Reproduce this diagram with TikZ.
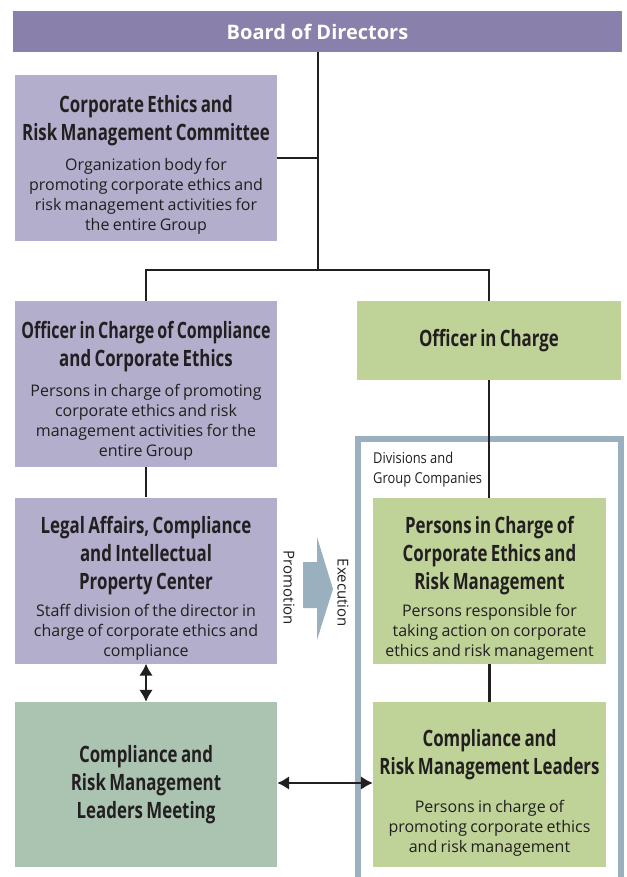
\documentclass[tikz,border=0pt]{standalone}
\usepackage{fontspec}
\setmainfont{Open Sans}
\newfontfamily\condfont[FakeStretch=0.75]{Open Sans}
\newfontfamily\narrowfont[FakeStretch=0.86]{Open Sans}
\usetikzlibrary{arrows.meta}
\definecolor{boardpurple}{HTML}{8981AC}
\definecolor{lavender}{HTML}{B2AECB}
\definecolor{leafgreen}{HTML}{BFD399}
\definecolor{sagegreen}{HTML}{ABC4B2}
\definecolor{slateblue}{HTML}{9BB0BE}
\definecolor{textgray}{HTML}{231F20}
\newcommand{\boxtitle}{\condfont\bfseries\fontsize{22.5}{28}\selectfont}
\newcommand{\boxbody}{\normalfont\fontsize{16}{20}\selectfont}
\newcommand{\topgap}[1]{\par\vspace*{#1}}

\begin{document}
\begin{tikzpicture}[
    x=1pt,y=-1pt,
    board/.style={fill=boardpurple,text=white,minimum width=609pt,minimum height=41pt,inner sep=0,font=\bfseries\fontsize{20}{24}\selectfont},
    unit/.style={inner sep=0,align=center,text=textgray},
    purplebox/.style={unit,fill=lavender,minimum width=262pt,minimum height=166pt,text width=262pt},
    meetbox/.style={unit,fill=sagegreen,minimum width=262pt,minimum height=165pt,text width=262pt},
    greenbox/.style={unit,fill=leafgreen,minimum width=233pt,minimum height=166pt,text width=233pt},
    link/.style={line width=2.5pt,draw=textgray},
    biarrow/.style={link,{Latex[length=12pt,width=14pt]}-{Latex[length=12pt,width=14pt]}},
    lbl/.style={inner sep=0,text=textgray,font=\fontsize{15}{18}\selectfont}
]
    \useasboundingbox (0,0) rectangle (626,877);
    \node[board] (board) at (317.5,31.5) {Board of Directors};
    \node[purplebox] (ethics) at (146,158) {\topgap{3pt}\boxtitle Corporate Ethics and\\Risk Management Committee\par\vspace{10pt}\boxbody Organization body for\\promoting corporate ethics and\\risk management activities for\\the entire Group\par};
    \node[purplebox] (offcomp) at (146,384) {\topgap{2pt}\boxtitle \scalebox{0.95}[1]{Officer in Charge of Compliance}\\and Corporate Ethics\par\vspace{10pt}\boxbody Persons in charge of promoting\\corporate ethics and risk\\management activities for the\\entire Group\par};
    \node[purplebox] (legal) at (146,580.5) {\topgap{5pt}\boxtitle Legal Affairs, Compliance\\and Intellectual\\Property Center\par\vspace{7pt}\boxbody Staff division of the director in\\charge of corporate ethics and\\compliance\par};
    \node[meetbox] (meeting) at (146,784.5) {\boxtitle Compliance and\\Risk Management\\Leaders Meeting\par};
    \node[greenbox,minimum width=264pt,minimum height=79pt] (officer) at (489,340.5) {\boxtitle Officer in Charge\par};
    \node[greenbox] (persons) at (489.5,581) {\topgap{3pt}\boxtitle Persons in Charge of\\Corporate Ethics and\\Risk Management\par\vspace{7pt}\boxbody Persons responsible for\\taking action on corporate\\ethics and risk management\par};
    \node[greenbox,minimum height=165pt] (leaders) at (489.5,784.5) {\topgap{5pt}\boxtitle Compliance and\\Risk Management Leaders\par\vspace{18pt}\boxbody Persons in charge of\\promoting corporate ethics\\and risk management\par};

    % divisions frame
    \draw[slateblue,line width=6pt] (357.5,438.5) rectangle (621,900);
    \node[lbl,anchor=north west,align=left,font=\narrowfont\fontsize{15}{20}\selectfont] (divlabel) at (373,452) {Divisions and\\Group Companies};

    % promotion arrow
    \fill[slateblue] (303,562) -- (317,562) -- (317,537) -- (333,589) -- (317,640) -- (317,608) -- (303,608) -- cycle;
    \node[lbl,rotate=-90] (promo) at (289,588) {Promotion};
    \node[lbl,rotate=-90] (exec) at (343,593) {Execution};

    \coordinate (split) at (318,270);
    \draw[link] (board.south -| split) -- (split);
    \draw[link] (ethics.east) -- (ethics.east -| split);
    \draw[link] (offcomp.north) |- (split) -| (officer.north);
    \draw[link] (offcomp.south) -- (legal.north);
    \draw[link] (officer.south) -- (officer.south |- persons.north);
    \draw[link] (persons.south) -- (leaders.north);
    \draw[biarrow] (legal.south) -- (meeting.north);
    \draw[biarrow] (meeting.east |- 0,783) -- (leaders.west |- 0,783);
\end{tikzpicture}
\end{document}
